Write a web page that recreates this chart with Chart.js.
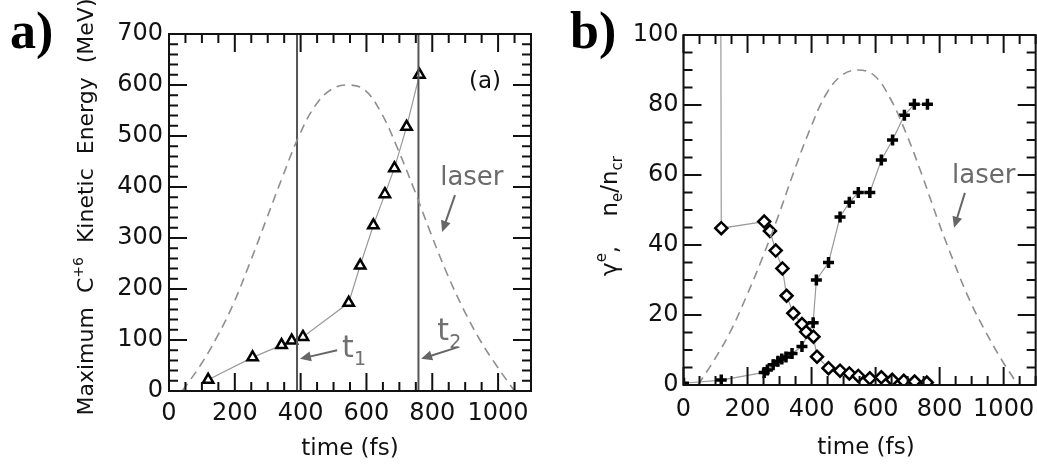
<!DOCTYPE html>
<html>
<head>
<meta charset="utf-8">
<script src="https://cdn.jsdelivr.net/npm/chart.js@4.4.0/dist/chart.umd.min.js"></script>
<style>
html, body { margin: 0; padding: 0; background: #fff; overflow: hidden; }
#wrapA { position: absolute; left: 0; top: 0; width: 545px; height: 466px; }
#wrapB { position: absolute; left: 545px; top: 0; width: 500px; height: 466px; }
</style>
</head>
<body>
<div id="wrapA"><canvas id="chartA" width="545" height="466"></canvas></div>
<div id="wrapB"><canvas id="chartB" width="500" height="466"></canvas></div>
<script>
// tick labels
const timeTicks = [0, 200, 400, 600, 800, 1000];
const energyTicks = [0, 100, 200, 300, 400, 500, 600, 700];
const valueTicks = [0, 20, 40, 60, 80, 100];

// panel a: max C+6 energy
const ionTime = [119, 254, 342, 373, 407, 546, 581, 621, 656, 685, 722, 761];
const ionEnergy = [22, 66, 90, 99, 106, 173, 246, 325, 386, 437, 518, 620];
const laserTimeA = [40, 95, 145, 195, 245, 295, 345, 395, 445, 495, 545, 595, 645, 695, 745, 795, 845, 895, 945, 995, 1050];
const laserA = [0, 50, 105, 170, 250, 335, 420, 500, 560, 592, 600, 590, 545, 475, 395, 310, 230, 160, 100, 50, 0];
const t1Time = 389;
const t2Time = 758;

// panel b: gamma^e (diamonds) and n_e/n_cr (crosses)
const gammaTime = [112, 118, 252, 270, 288, 309, 322, 343, 370, 383, 406, 417, 453, 489, 518, 546, 582, 618, 652, 688, 722, 760];
const gammaValue = [300, 44.8, 46.7, 44, 38.4, 33.3, 25.5, 20.5, 17.4, 15.2, 13.8, 8.1, 4.8, 4.1, 3.3, 2.6, 1.9, 2.2, 1.5, 1.2, 1.0, 0.7];
const densityTime = [0, 118, 252, 262, 280, 295, 307, 320, 339, 370, 405, 415, 453, 489, 518, 546, 582, 618, 653, 690, 721, 762];
const densityValue = [0.5, 1.4, 3.6, 4.3, 5.8, 6.8, 7.4, 8, 9, 11, 17.8, 30, 35, 48, 52.2, 55, 55, 64.3, 70, 77.1, 80.2, 80.2];
const laserTimeB = [45, 95, 145, 195, 245, 295, 345, 395, 445, 495, 545, 595, 645, 695, 745, 795, 845, 895, 945, 995, 1045];
const laserB = [0, 7, 15, 25, 36, 48, 61, 73, 83, 88.5, 90, 88.5, 82, 72, 60, 47, 35, 24, 15, 7, 0];

const FONT = 'DejaVu Sans';

function pts(xs, ys) {
    return xs.map((x, i) => ({ x: x, y: ys[i] }));
}

// box with inward ticks on all four sides
const frame = {
    id: 'frame',
    afterDatasetsDraw(chart, args, o) {
        const { ctx, chartArea: a, scales: { x, y } } = chart;
        ctx.save();
        ctx.strokeStyle = '#111';
        ctx.lineWidth = 2;
        ctx.beginPath();
        for (let v = x.min; v <= x.max; v += o.xMinor) {
            const px = x.getPixelForValue(v);
            const len = v % o.xMajor === 0 ? 18 : 9;
            ctx.moveTo(px, a.bottom); ctx.lineTo(px, a.bottom - len);
            ctx.moveTo(px, a.top); ctx.lineTo(px, a.top + len);
        }
        for (let v = y.min; v <= y.max; v += o.yMinor) {
            const py = y.getPixelForValue(v);
            const len = v % o.yMajor === 0 ? 18 : 9;
            ctx.moveTo(a.left, py); ctx.lineTo(a.left + len, py);
            ctx.moveTo(a.right, py); ctx.lineTo(a.right - len, py);
        }
        ctx.stroke();
        ctx.strokeRect(a.left, a.top, a.right - a.left, a.bottom - a.top);
        ctx.restore();
    }
};

function rich(ctx, parts, x, y, rotate) {
    ctx.save();
    ctx.translate(x, y);
    if (rotate) ctx.rotate(-Math.PI / 2);
    let total = 0;
    parts.forEach(p => {
        ctx.font = p.size + 'px "' + FONT + '"';
        p.w = ctx.measureText(p.t).width;
        total += p.w;
    });
    let cx = -total / 2;
    ctx.textBaseline = 'alphabetic';
    ctx.textAlign = 'left';
    parts.forEach(p => {
        ctx.font = p.size + 'px "' + FONT + '"';
        ctx.fillText(p.t, cx, p.dy || 0);
        cx += p.w;
    });
    ctx.restore();
}

function arrow(ctx, x1, y1, x2, y2, color) {
    const ang = Math.atan2(y2 - y1, x2 - x1);
    const hl = 11, hw = 5;
    ctx.save();
    ctx.strokeStyle = color;
    ctx.fillStyle = color;
    ctx.lineWidth = 2;
    ctx.beginPath();
    ctx.moveTo(x1, y1);
    ctx.lineTo(x2 - Math.cos(ang) * hl * 0.8, y2 - Math.sin(ang) * hl * 0.8);
    ctx.stroke();
    ctx.beginPath();
    ctx.moveTo(x2, y2);
    ctx.lineTo(x2 - Math.cos(ang) * hl + Math.sin(ang) * hw, y2 - Math.sin(ang) * hl - Math.cos(ang) * hw);
    ctx.lineTo(x2 - Math.cos(ang) * hl - Math.sin(ang) * hw, y2 - Math.sin(ang) * hl + Math.cos(ang) * hw);
    ctx.closePath();
    ctx.fill();
    ctx.restore();
}

function options(W, H, box, yMax, yTicks, frameOpts, padX, padY) {
    return {
        responsive: false,
        animation: false,
        layout: { padding: { left: 0, top: box.top, right: W - box.right, bottom: 0 } },
        plugins: { legend: { display: false }, tooltip: { enabled: false }, frame: frameOpts },
        scales: {
            x: {
                type: 'linear', min: 0, max: 1100,
                grid: { display: false, drawTicks: false },
                border: { display: false },
                afterBuildTicks: s => { s.ticks = timeTicks.map(v => ({ value: v })); },
                afterFit: s => { s.height = H - box.bottom; },
                ticks: {
                    color: '#111', padding: padX, maxRotation: 0, autoSkip: false,
                    font: { family: FONT, size: 24 }, callback: v => String(v)
                }
            },
            y: {
                type: 'linear', min: 0, max: yMax,
                grid: { display: false, drawTicks: false },
                border: { display: false },
                afterBuildTicks: s => { s.ticks = yTicks.map(v => ({ value: v })); },
                afterFit: s => { s.width = box.left; },
                ticks: {
                    color: '#111', padding: padY, autoSkip: false,
                    font: { family: FONT, size: 24 }, callback: v => String(v)
                }
            }
        }
    };
}

function vline(t, yMax) {
    return {
        data: [{ x: t, y: 0 }, { x: t, y: yMax }],
        showLine: true, borderColor: '#555', borderWidth: 2, pointRadius: 0
    };
}

const laserStyle = {
    showLine: true, borderColor: '#8f8f8f', borderWidth: 1.6, borderDash: [9, 6],
    pointRadius: 0, tension: 0.4
};

// ---------- panel a ----------
const notesA = {
    id: 'notesA',
    afterDraw(chart) {
        const { ctx, scales: { x, y } } = chart;
        ctx.save();
        ctx.fillStyle = '#000';
        ctx.font = 'bold 52px "Liberation Serif"';
        ctx.fillText('a)', 10, 48);
        ctx.fillStyle = '#111';
        rich(ctx, [
            { t: 'Maximum  C', size: 22 },
            { t: '+6', size: 14, dy: -10 },
            { t: '  Kinetic  Energy  (MeV)', size: 22 }
        ], 93, 207, true);
        rich(ctx, [{ t: 'time (fs)', size: 23 }], 350, 455, false);
        ctx.font = '23px "' + FONT + '"';
        ctx.textAlign = 'center';
        ctx.fillText('(a)', x.getPixelForValue(960), y.getPixelForValue(610) + 8);
        ctx.textAlign = 'left';
        ctx.fillStyle = '#6b6b6b';
        ctx.font = '26px "' + FONT + '"';
        ctx.fillText('laser', x.getPixelForValue(824), y.getPixelForValue(404));
        arrow(ctx, x.getPixelForValue(869), y.getPixelForValue(384), x.getPixelForValue(830), y.getPixelForValue(312), '#666');
        ctx.fillStyle = '#707070';
        const t1x = x.getPixelForValue(526), t1y = y.getPixelForValue(67);
        ctx.font = '30px "' + FONT + '"';
        ctx.fillText('t', t1x, t1y);
        ctx.font = '19px "' + FONT + '"';
        ctx.fillText('1', t1x + 12, t1y + 8);
        const t2x = x.getPixelForValue(815), t2y = y.getPixelForValue(100);
        ctx.font = '30px "' + FONT + '"';
        ctx.fillText('t', t2x, t2y);
        ctx.font = '19px "' + FONT + '"';
        ctx.fillText('2', t2x + 12, t2y + 8);
        arrow(ctx, x.getPixelForValue(511), y.getPixelForValue(80), x.getPixelForValue(398), y.getPixelForValue(63), '#666');
        arrow(ctx, x.getPixelForValue(878), y.getPixelForValue(86), x.getPixelForValue(766), y.getPixelForValue(63), '#666');
        ctx.restore();
    }
};

new Chart(document.getElementById('chartA'), {
    type: 'scatter',
    data: {
        datasets: [
            Object.assign({ data: pts(laserTimeA, laserA) }, laserStyle),
            vline(t1Time, 700),
            vline(t2Time, 700),
            {
                data: pts(ionTime, ionEnergy),
                showLine: true, borderColor: '#9a9a9a', borderWidth: 1.2,
                pointStyle: 'triangle', pointRadius: 6, pointBorderWidth: 2.5,
                pointBorderColor: '#000', pointBackgroundColor: '#fff'
            }
        ]
    },
    options: options(545, 466, { left: 169, right: 531, top: 34, bottom: 391 }, 700, energyTicks,
        { xMajor: 200, xMinor: 50, yMajor: 100, yMinor: 20 }, 8, 6),
    plugins: [frame, notesA]
});

// ---------- panel b ----------
const notesB = {
    id: 'notesB',
    afterDraw(chart) {
        const { ctx, scales: { x, y } } = chart;
        ctx.save();
        ctx.fillStyle = '#000';
        ctx.font = 'bold 52px "Liberation Serif"';
        ctx.fillText('b)', 25, 48);
        ctx.fillStyle = '#111';
        rich(ctx, [
            { t: '\u03b3', size: 23 },
            { t: 'e', size: 15, dy: -11 },
            { t: ',    n', size: 23 },
            { t: 'e', size: 15, dy: 5 },
            { t: '/n', size: 23 },
            { t: 'cr', size: 15, dy: 5 }
        ], 72, 216, true);
        rich(ctx, [{ t: 'time (fs)', size: 23 }], 321, 454, false);
        ctx.fillStyle = '#6b6b6b';
        ctx.font = '26px "' + FONT + '"';
        ctx.fillText('laser', x.getPixelForValue(839), y.getPixelForValue(57.7));
        arrow(ctx, x.getPixelForValue(879), y.getPixelForValue(54.9), x.getPixelForValue(845), y.getPixelForValue(44.9), '#666');
        ctx.restore();
    }
};

new Chart(document.getElementById('chartB'), {
    type: 'scatter',
    data: {
        datasets: [
            Object.assign({ data: pts(laserTimeB, laserB) }, laserStyle),
            {
                data: pts(gammaTime, gammaValue),
                showLine: true, borderColor: '#9a9a9a', borderWidth: 1.2,
                pointStyle: 'rectRot', pointRadius: 6, pointBorderWidth: 2.5,
                pointBorderColor: '#000', pointBackgroundColor: '#fff'
            },
            {
                data: pts(densityTime, densityValue),
                showLine: true, borderColor: '#9a9a9a', borderWidth: 1.2,
                pointStyle: 'cross', pointRadius: 5.5, pointBorderWidth: 3.5,
                pointBorderColor: '#000'
            }
        ]
    },
    options: options(500, 466, { left: 138.5, right: 494.5, top: 35, bottom: 385 }, 100, valueTicks,
        { xMajor: 200, xMinor: 50, yMajor: 20, yMinor: 5 }, 10, 5),
    plugins: [frame, notesB]
});
</script>
</body>
</html>
